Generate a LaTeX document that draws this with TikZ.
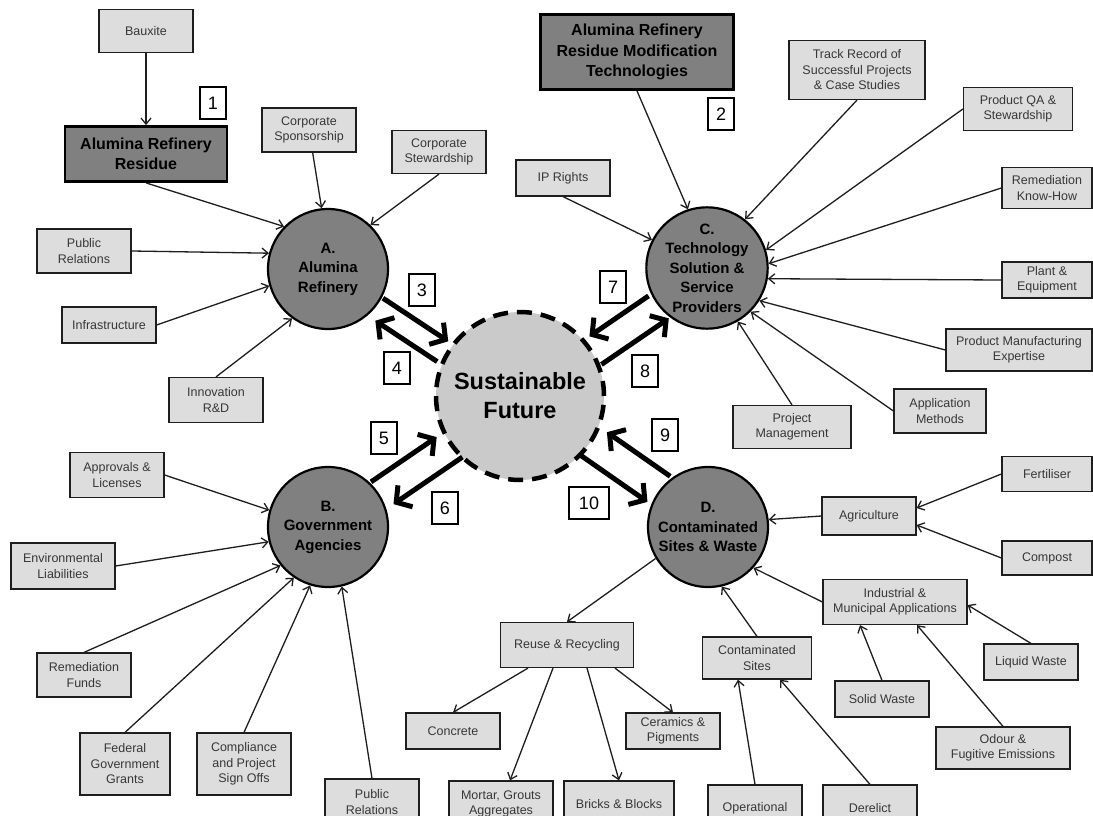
\documentclass[tikz,border=0pt]{standalone}
\usepackage{fontspec}
\setmainfont{Liberation Sans}
\usepackage{xcolor}
\usepackage{tikz}
\usetikzlibrary{arrows.meta,positioning,calc}
\definecolor{boxfill}{RGB}{221,221,221}
\definecolor{boxtext}{RGB}{55,55,55}
\definecolor{hubfill}{RGB}{128,128,128}
\definecolor{corefill}{RGB}{202,202,202}
\definecolor{linegray}{RGB}{30,30,30}

\begin{document}
\begin{tikzpicture}[
  x=1pt, y=-1pt,
  sbox/.style={draw=linegray, fill=boxfill, line width=1.2pt, text=boxtext, align=center,
    font=\fontsize{12.5}{15.5}\selectfont, minimum width=94pt, minimum height=36pt, inner sep=2pt},
  dbox/.style={draw=black, fill=hubfill, line width=2.8pt, align=center,
    font=\bfseries\fontsize{16}{20.5}\selectfont, inner sep=2pt},
  hub/.style={circle, draw=black, fill=hubfill, line width=2.2pt, minimum size=120pt, inner sep=0pt,
    align=center, font=\bfseries\fontsize{15}{19.5}\selectfont},
  core/.style={circle, draw=black, fill=corefill, line width=4.5pt, dash pattern=on 15pt off 9pt,
    minimum size=168pt, inner sep=0pt, align=center, font=\bfseries\fontsize{23.5}{29}\selectfont},
  num/.style={draw=black, fill=white, line width=2.2pt, minimum width=26pt, minimum height=32pt,
    inner sep=2pt, font=\fontsize{18}{18}\selectfont},
  feed/.style={draw=linegray, line width=1.3pt, -{Straight Barb[length=6pt,width=10pt]}},
  big/.style={draw=black, line width=5pt, -{Straight Barb[length=11pt,width=26pt]}}
]
  \useasboundingbox[fill=white] (0,0) rectangle (1093,816);

  \node[hub] (A) at (328,269) {A.\\Alumina\\Refinery};
  \node[hub] (B) at (328,527) {B.\\Government\\Agencies};
  \node[hub] (C) at (707,268) {C.\\Technology\\Solution \&\\Service\\Providers};
  \node[hub] (D) at (708,527) {D.\\Contaminated\\Sites \& Waste};
  \node[core] (F) at (520,396) {Sustainable\\Future};

  \node[dbox, minimum width=162pt, minimum height=55pt] (resid) at (146,154) {Alumina Refinery\\Residue};
  \node[dbox, minimum width=193pt, minimum height=75pt] (modtech) at (637,52) {Alumina Refinery\\Residue Modification\\Technologies};

  \node[sbox, minimum height=43pt] (bauxite) at (146,31) {Bauxite};
  \node[sbox, minimum height=44pt] (corpspon) at (309,130) {Corporate\\Sponsorship};
  \node[sbox, minimum height=44pt] (pubrelA) at (84,251) {Public\\Relations};
  \node[sbox, minimum height=43pt] (corpstew) at (439,152) {Corporate\\Stewardship};
  \node[sbox] (infra) at (109,325) {Infrastructure};
  \node[sbox, minimum height=45pt] (innov) at (216,400) {Innovation\\R\&D};

  \node[sbox] (iprights) at (563,178) {IP Rights};
  \node[sbox, minimum width=136pt, minimum height=59pt] (track) at (857,70) {Track Record of\\Successful Projects\\\& Case Studies};
  \node[sbox, minimum width=109pt, minimum height=43pt] (prodqa) at (1018,109) {Product QA \&\\Stewardship};
  \node[sbox, minimum width=90pt, minimum height=41pt] (remknow) at (1047,188) {Remediation\\Know-How};
  \node[sbox, minimum width=90pt] (plant) at (1047,280) {Plant \&\\Equipment};
  \node[sbox, minimum width=146pt, minimum height=42pt] (prodmfg) at (1019,350) {Product Manufacturing\\Expertise};
  \node[sbox, minimum width=92pt, minimum height=44pt] (appmeth) at (940,411) {Application\\Methods};
  \node[sbox, minimum width=118pt, minimum height=43pt] (projman) at (792,427) {Project\\Management};

  \node[sbox, minimum height=45pt] (approv) at (117,475) {Approvals \&\\Licenses};
  \node[sbox, minimum width=104pt, minimum height=46pt] (envliab) at (63,566) {Environmental\\Liabilities};
  \node[sbox, minimum height=44pt] (remfund) at (84,675) {Remediation\\Funds};
  \node[sbox, minimum width=90pt, minimum height=62pt] (federal) at (125,764) {Federal\\Government\\Grants};
  \node[sbox, minimum height=62pt] (comply) at (244,764) {Compliance\\and Project\\Sign Offs};
  \node[sbox, minimum height=46pt] (pubrelB) at (372,802) {Public\\Relations};

  \node[sbox, minimum width=133pt, minimum height=45pt] (reuse) at (567,645) {Reuse \& Recycling};
  \node[sbox] (concrete) at (453,731) {Concrete};
  \node[sbox] (ceramic) at (673,731) {Ceramics \&\\Pigments};
  \node[sbox, minimum width=104pt, minimum height=46pt] (mortar) at (501,804) {Mortar, Grouts\\Aggregates};
  \node[sbox, minimum width=110pt, minimum height=46pt] (bricks) at (619,804) {Bricks \& Blocks};

  \node[sbox, minimum width=109pt, minimum height=42pt] (contam) at (757,658) {Contaminated\\Sites};
  \node[sbox, minimum height=46pt] (operat) at (755,808) {Operational};
  \node[sbox, minimum height=46pt] (derelict) at (870,808) {Derelict};
  \node[sbox, minimum width=144pt, minimum height=45pt] (indust) at (895,602) {Industrial \&\\Municipal Applications};
  \node[sbox] (solid) at (882,699) {Solid Waste};
  \node[sbox] (liquid) at (1031,662) {Liquid Waste};
  \node[sbox, minimum width=134pt, minimum height=42pt] (odour) at (1003,748) {Odour \&\\Fugitive Emissions};
  \node[sbox, minimum height=38pt] (agri) at (869,516) {Agriculture};
  \node[sbox, minimum width=90pt, minimum height=35pt] (fert) at (1047,474) {Fertiliser};
  \node[sbox, minimum width=90pt, minimum height=34pt] (compost) at (1047,558) {Compost};

  \node[num] (n1) at (213,103) {1};
  \node[num] (n2) at (721,114) {2};
  \node[num] (n3) at (422,290) {3};
  \node[num] (n4) at (397,368) {4};
  \node[num] (n5) at (384,438) {5};
  \node[num] (n6) at (445,508) {6};
  \node[num] (n7) at (613,287) {7};
  \node[num] (n8) at (645,371) {8};
  \node[num] (n9) at (665,435) {9};
  \node[num, minimum width=40pt] (n10) at (589,503) {10};

  \draw[big, shorten <=62pt, shorten >=90pt] ($(A)!6pt!90:(F)$) -- ($(F)!6pt!-90:(A)$);
  \draw[big, shorten <=88pt, shorten >=68pt] ($(F)!17pt!90:(A)$) -- ($(A)!17pt!-90:(F)$);
  \draw[big, shorten <=61pt, shorten >=92pt] ($(B)!13pt!90:(F)$) -- ($(F)!13pt!-90:(B)$);
  \draw[big, shorten <=82pt, shorten >=67pt] ($(F)!18pt!90:(B)$) -- ($(B)!18pt!-90:(F)$);
  \draw[big, shorten <=64pt, shorten >=91pt] ($(C)!10pt!-90:(F)$) -- ($(F)!10pt!90:(C)$);
  \draw[big, shorten <=85pt, shorten >=60pt] ($(F)!20pt!-90:(C)$) -- ($(C)!20pt!90:(F)$);
  \draw[big, shorten <=60pt, shorten >=92pt] ($(D)!20pt!-90:(F)$) -- ($(F)!20pt!90:(D)$);
  \draw[big, shorten <=84pt, shorten >=64pt] ($(F)!14pt!-90:(D)$) -- ($(D)!14pt!90:(F)$);

  \draw[feed] (bauxite) -- (resid);
  \draw[feed] (resid.south) -- (A.136);
  \draw[feed] (corpspon) -- (A.96);
  \draw[feed] (pubrelA.east) -- (A.165);
  \draw[feed] (corpstew.south) -- (A.46);
  \draw[feed] (infra.east) -- (A.196);
  \draw[feed] (innov.north) -- (A.234);

  \draw[feed] (modtech.south) -- (C.108);
  \draw[feed] (iprights.south) -- (C.153);
  \draw[feed] (track.south) -- (C.52);
  \draw[feed] (prodqa.west) -- (C.17);
  \draw[feed] (remknow.west) -- (C.4);
  \draw[feed] (plant.west) -- (C.-10);
  \draw[feed] (prodmfg.west) -- (C.-32);
  \draw[feed] (appmeth.west) -- (C.-45);
  \draw[feed] (projman.north) -- (C.-60);

  \draw[feed] (approv.east) -- (B.164);
  \draw[feed] (envliab.east) -- (B.194);
  \draw[feed] (remfund.north) -- (B.219);
  \draw[feed] (federal.north) -- (B.236);
  \draw[feed] (comply.north) -- (B.253);
  \draw[feed] (pubrelB.north) -- (B.283);

  \draw[feed] (agri.west) -- (D.7);
  \draw[feed] (fert.west) -- ([yshift=8pt]agri.east);
  \draw[feed] (compost.west) -- ([yshift=-9pt]agri.east);
  \draw[feed] (indust.west) -- (D.-42);
  \draw[feed] (liquid.north) -- ([yshift=-3pt]indust.east);
  \draw[feed] (solid.north) -- ([xshift=-35pt]indust.south);
  \draw[feed] (odour.north) -- ([xshift=22pt]indust.south);
  \draw[feed] (contam.north) -- (D.-77);
  \draw[feed] (operat.north) -- ([xshift=-19pt]contam.south);
  \draw[feed] (derelict.north) -- ([xshift=23pt]contam.south);
  \draw[feed] (D.211) -- (reuse.north);
  \draw[feed] ([xshift=-39pt]reuse.south) -- (concrete.north);
  \draw[feed] ([xshift=-14pt]reuse.south) -- ([xshift=9pt]mortar.north);
  \draw[feed] ([xshift=20pt]reuse.south) -- (bricks.north);
  \draw[feed] ([xshift=48pt]reuse.south) -- (ceramic.north);
\end{tikzpicture}
\end{document}
